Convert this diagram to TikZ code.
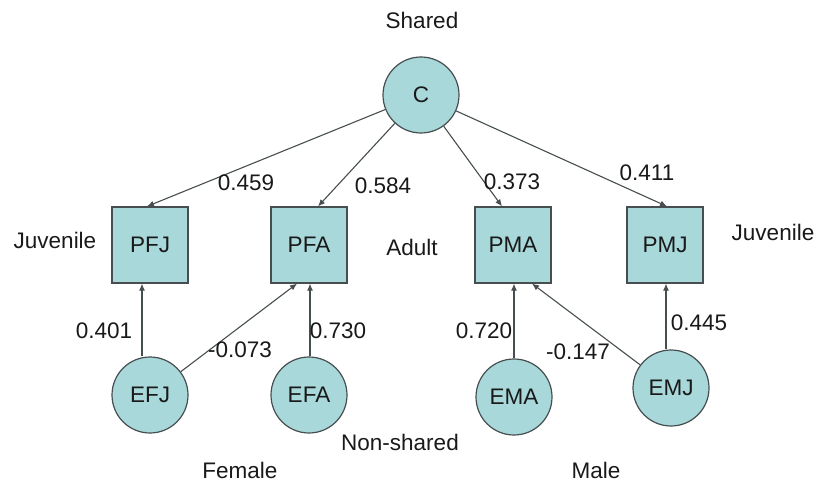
\documentclass[tikz,border=0pt]{standalone}
\usepackage{fontspec}
\setmainfont{Liberation Sans}
\usetikzlibrary{arrows.meta}
\definecolor{nodefill}{RGB}{168,216,218}
\definecolor{edgegray}{RGB}{70,78,80}
\definecolor{txt}{RGB}{25,25,25}
\begin{document}
\begin{tikzpicture}[x=1pt,y=-1pt,
  font=\fontsize{22.5}{26}\selectfont, text=txt,
  latent/.style={circle, draw=edgegray, fill=nodefill, line width=1.2pt, minimum size=76pt, inner sep=0pt},
  observed/.style={rectangle, draw=edgegray, fill=nodefill, line width=1.2pt, minimum size=76pt, inner sep=0pt},
  path/.style={draw=edgegray, line width=1.1pt, -{Latex[length=7pt,width=6pt]}},
  lbl/.style={inner sep=0pt}]
\useasboundingbox (0,0) rectangle (819,489);
% common factor
\node[latent] (C) at (421,95) {C};
% phenotype boxes
\node[observed] (PFJ) at (150,245) {PFJ};
\node[observed] (PFA) at (309,245) {PFA};
\node[observed] (PMA) at (513,245) {PMA};
\node[observed] (PMJ) at (665,245) {PMJ};
% unique environment factors
\node[latent] (EFJ) at (150,395) {EFJ};
\node[latent] (EFA) at (309,395) {EFA};
\node[latent] (EMA) at (514,397) {EMA};
\node[latent] (EMJ) at (671,388) {EMJ};
% shared paths
\draw[path] (C) -- ([xshift=-3pt]PFJ.north);
\draw[path] (C) -- ([xshift=9pt]PFA.north);
\draw[path] (C) -- ([xshift=-11pt]PMA.north);
\draw[path] (C) -- ([xshift=2pt]PMJ.north);
% non-shared paths
\draw[path] (EFJ.north -| 142,0) -- (PFJ.south -| 142,0);
\draw[path] (EFJ) -- ([xshift=-12pt]PFA.south);
\draw[path] (EFA.north -| 310,0) -- (PFA.south -| 310,0);
\draw[path] (EMA.north -| 514,0) -- (PMA.south -| 514,0);
\draw[path] (EMJ) -- ([xshift=19pt]PMA.south);
\draw[path] (EMJ.north -| 666,0) -- (PMJ.south -| 666,0);
% path coefficients
\node[lbl] (l1) at (246,183) {0.459};
\node[lbl] (l2) at (383,186) {0.584};
\node[lbl] (l3) at (512,182) {0.373};
\node[lbl] (l4) at (647,173) {0.411};
\node[lbl] (l5) at (104,331) {0.401};
\node[lbl] (l6) at (240,350) {-0.073};
\node[lbl] (l7) at (338,331) {0.730};
\node[lbl] (l8) at (484,331) {0.720};
\node[lbl] (l9) at (578,352) {-0.147};
\node[lbl] (l10) at (699,323) {0.445};
% group labels
\node[lbl] (shared) at (422,20) {Shared};
\node[lbl] (juvL) at (55,240) {Juvenile};
\node[lbl] (adult) at (412,247) {Adult};
\node[lbl] (juvR) at (773,232) {Juvenile};
\node[lbl] (nonsh) at (400,442) {Non-shared};
\node[lbl] (female) at (240,470) {Female};
\node[lbl] (male) at (596,470) {Male};
\end{tikzpicture}
\end{document}
